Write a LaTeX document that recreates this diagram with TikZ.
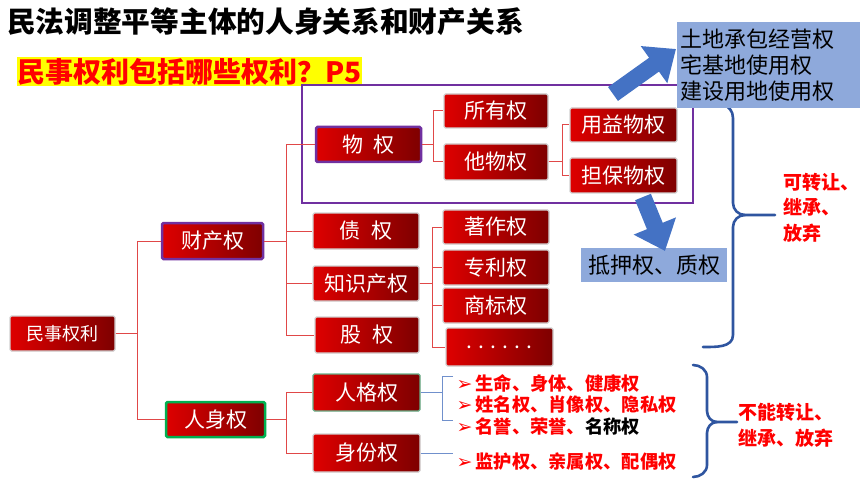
\documentclass[tikz,border=0pt]{standalone}
\usepackage{fontspec}
\setmainfont{Noto Sans CJK SC}
\newfontfamily\dejavu{DejaVu Sans}
\usetikzlibrary{arrows.meta,calc}
\definecolor{rl}{HTML}{DE0000}
\definecolor{rr}{HTML}{7E0000}
\definecolor{purp}{HTML}{7030A0}
\definecolor{grn}{HTML}{00B050}
\definecolor{lblue}{HTML}{8EA9DB}
\definecolor{abl}{HTML}{4472C4}
\definecolor{brc}{HTML}{2F55A0}
\definecolor{thin}{HTML}{7090CC}
\definecolor{rln}{HTML}{E04848}
\definecolor{ylw}{HTML}{FFFF00}
\begin{document}
\begin{tikzpicture}[x=1pt,y=-1pt,
  rbox/.style={rectangle, left color=rl, right color=rr, draw=black!18, line width=1.2pt,
    text=white, inner sep=0pt, font=\fontsize{21pt}{24pt}\selectfont, rounded corners=1.5pt},
  sz/.style 2 args={minimum width=#1pt, minimum height=#2pt},
  rline/.style={draw=rln, line width=1pt},
  bline/.style={draw=thin, line width=1pt},
  brace/.style={draw=brc, line width=2.6pt, line cap=round, line join=round},
  barrow/.style={draw=abl, line width=17pt, -{Triangle[length=27pt,width=44pt]}},
  bul/.style={anchor=west, text=red, font=\fontsize{18.3pt}{22pt}\selectfont\bfseries},
  bulmark/.style={},
  rtxt/.style={anchor=west, text=red, align=left, inner sep=0pt, font=\fontsize{19pt}{25.5pt}\selectfont\bfseries},
  bbox/.style={rectangle, fill=lblue, text=black, inner sep=0pt, font=\fontsize{22pt}{26pt}\selectfont}
]
\useasboundingbox[fill=white] (0,0) rectangle (860,484);

% title and banner
\node[anchor=west, inner sep=0pt, font=\fontsize{28.7pt}{30pt}\selectfont\bfseries] (title) at (7,22) {民法调整平等主体的人身关系和财产关系};
\node[fill=ylw, text=red, inner sep=0pt, sz={345}{29}, font=\fontsize{28pt}{30pt}\selectfont\bfseries] (ban) at (189.5,71.5) {民事权利包括哪些权利？P5};

% purple frame
\draw[purp, line width=2.5pt] (302,85) rectangle (693,203);

% upper brace (behind the blue box)
\draw[brace] (703,100) to[out=0,in=90] (733,118) -- (733,203) to[out=-90,in=180] (745,215) -- (775,215);
\draw[brace] (745,215) to[out=180,in=90] (733,227) -- (733,335) to[out=-90,in=0] (703,347);

% lower brace
\draw[brace] (693,365) to[out=0,in=90] (707,377) -- (707,411) to[out=-90,in=180] (717,422) -- (737,422);
\draw[brace] (717,422) to[out=180,in=90] (707,433) -- (707,465) to[out=-90,in=0] (693,477);

% blue boxes
\node[bbox, sz={183}{86}, text width=176pt, align=left] (land) at (768.5,65) {土地承包经营权\\宅基地使用权\\建设用地使用权};
\node[bbox, sz={146}{34}] (dy) at (654,265) {抵押权、质权};

% red boxes
\node[rbox, sz={105}{35}, font=\fontsize{18pt}{22pt}\selectfont] (mr) at (62.5,333.5) {民事权利};
\node[rbox, sz={101}{36}, draw=purp, line width=2.5pt] (ccq) at (212.5,241) {财产权};
\node[rbox, sz={99}{35}, draw=grn, line width=2.5pt] (rsq) at (215.5,419.5) {人身权};
\node[rbox, sz={105}{35}, draw=purp, line width=2.5pt] (wq) at (368.5,144.5) {物\hspace{0.5em}权};
\node[rbox, sz={104}{34}] (syq) at (496,111) {所有权};
\node[rbox, sz={104}{36}] (twq) at (496,162) {他物权};
\node[rbox, sz={107}{34}] (yyq) at (623.5,125) {用益物权};
\node[rbox, sz={107}{35}] (dbq) at (623.5,175.5) {担保物权};
\node[rbox, sz={106}{36}] (zq) at (366,231) {债\hspace{0.5em}权};
\node[rbox, sz={106}{35}] (zscq) at (366,283.5) {知识产权};
\node[rbox, sz={104}{36}] (gq) at (367,335) {股\hspace{0.5em}权};
\node[rbox, sz={107}{37}, draw=grn!70!black!60, line width=1.2pt] (rgq) at (366.5,392.5) {人格权};
\node[rbox, sz={107}{38}] (sfq) at (366.5,453) {身份权};
\node[rbox, sz={106}{34}] (zzq) at (496,227) {著作权};
\node[rbox, sz={106}{35}] (zlq) at (496,267.5) {专利权};
\node[rbox, sz={106}{35}] (sbq) at (496,305.5) {商标权};
\node[rbox, sz={107}{38}] (more) at (499.5,347) {. . . . . .};

% red tree connectors
\draw[rline] (mr.east) -- ++(22,0) |- (ccq.west);
\draw[rline] (mr.east) -- ++(22,0) |- (rsq.west);
\foreach \t in {wq,zq,zscq,gq} \draw[rline] (ccq.east) -- ++(22,0) |- (\t.west);
\foreach \t in {rgq,sfq} \draw[rline] (rsq.east) -- ++(20,0) |- (\t.west);
\foreach \t in {syq,twq} \draw[rline] (wq.east) -- ++(11,0) |- (\t.west);
\foreach \t in {yyq,dbq} \draw[rline] (twq.east) -- ++(14,0) |- (\t.west);
\foreach \t in {zzq,zlq,sbq,more} \draw[rline] (zscq.east) -- ++(13,0) |- (\t.west);

% blue arrows
\draw[barrow] (613,94) -- (676,49);
\draw[barrow] (643,197) -- (665,251);

% bullet lists
\node[bul] (b1) at (453,383) {{\dejavu\fontsize{19pt}{19pt}\selectfont\mdseries ➢}\hspace{3pt}生命、身体、健康权};
\node[bul] (b2) at (453,404.5) {{\dejavu\fontsize{19pt}{19pt}\selectfont\mdseries ➢}\hspace{3pt}姓名权、肖像权、隐私权};
\node[bul] (b3) at (453,427) {{\dejavu\fontsize{19pt}{19pt}\selectfont\mdseries ➢}\hspace{3pt}名誉、荣誉、\textcolor{black}{名称权}};
\node[bul] (b4) at (453,462) {{\dejavu\fontsize{19pt}{19pt}\selectfont\mdseries ➢}\hspace{3pt}监护权、亲属权、配偶权};

% thin blue bracket connectors
\coordinate (bt) at (442,376);
\coordinate (bb) at (442,420);
\draw[bline] (rgq.east) -- (rgq.east -| bt);
\draw[bline] (b1.west |- bt) -- (bt) -- (bb) -- (b1.west |- bb);
\draw[bline] (sfq.east) -- (b4.west |- sfq.east);

% brace labels
\node[rtxt] (kz) at (783,207.5) {可转让、\\继承、\\放弃};
\node[rtxt] (bn) at (738,425.5) {不能转让、\\继承、放弃};
\end{tikzpicture}
\end{document}
